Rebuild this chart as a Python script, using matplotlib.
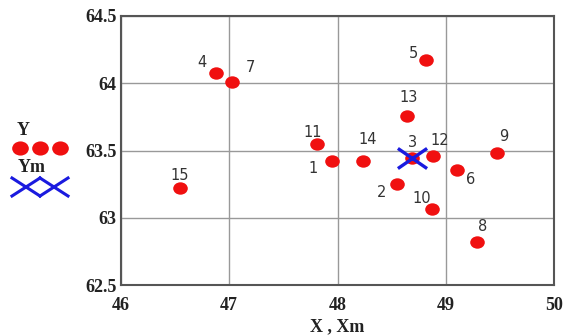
import matplotlib
matplotlib.use("Agg")
import matplotlib.pyplot as plt
from matplotlib.lines import Line2D
from matplotlib.path import Path
from matplotlib.markers import MarkerStyle
from matplotlib.transforms import Affine2D

# Observed points Y (X coordinate, Y coordinate) with their numbers
point_ids = [1, 2, 3, 4, 5, 6, 7, 8, 9, 10, 11, 12, 13, 14, 15]
x_vals = [47.95, 48.55, 48.69, 46.88, 48.82, 49.10, 47.03, 49.29, 49.47, 48.87,
          47.81, 48.88, 48.64, 48.24, 46.545]
y_vals = [63.42, 63.25, 63.445, 64.075, 64.17, 63.355, 64.01, 62.82, 63.48, 63.065,
          63.55, 63.46, 63.76, 63.42, 63.22]

# Reference point Ym
xm = [48.69]
ym = [63.445]

x_ticks = [46, 47, 48, 49, 50]
y_ticks = [62.5, 63, 63.5, 64, 64.5]
x_ticklabels = ["46", "47", "48", "49", "50"]
y_ticklabels = ["62.5", "63", "63.5", "64", "64.5"]

# label offsets in pixels (dx, dy; dy positive upward)
label_offsets = {1: (-19, -7), 2: (-15, -8), 3: (0, 15), 4: (-14, 11), 5: (-13, 7),
                 6: (14, -9), 7: (18, 14), 8: (5, 15), 9: (7, 17), 10: (-10, 11),
                 11: (-4, 11), 12: (7, 15), 13: (2, 18), 14: (4, 22), 15: (0, 13)}

RED = "#f01010"
BLUE = "#1a1adf"
serif_bold = dict(family="Liberation Serif", weight="bold", color="#222222")

# slightly wide dot and wide cross symbols
dot_path = Path.unit_circle().transformed(Affine2D().scale(1.0, 0.85))
DOT = MarkerStyle(dot_path)
cross_path = Path([(-1.45, -1), (1.45, 1), (-1.45, 1), (1.45, -1)],
                  [Path.MOVETO, Path.LINETO, Path.MOVETO, Path.LINETO])
CROSS = MarkerStyle(cross_path)

fig = plt.figure(figsize=(5.70, 3.36), dpi=100)
ax = fig.add_axes([121 / 570, 1 - 285 / 336, 433 / 570, 269 / 336])

ax.set_xlim(46, 50)
ax.set_ylim(62.5, 64.5)
ax.set_xticks(x_ticks)
ax.set_yticks(y_ticks)
ax.set_xticklabels(x_ticklabels, fontsize=13, **serif_bold)
ax.set_yticklabels(y_ticklabels, fontsize=13, **serif_bold)
ax.tick_params(axis="both", length=0)
ax.tick_params(axis="x", pad=9)
ax.tick_params(axis="y", pad=3)
ax.grid(True, color="#999999", linewidth=1.0)
ax.set_axisbelow(True)
for s in ax.spines.values():
    s.set_color("#555555")
    s.set_linewidth(1.5)

ax.plot(x_vals, y_vals, linestyle="none", marker=DOT, markersize=10.5,
        color=RED, markeredgecolor=RED, markeredgewidth=0, zorder=3)
ax.plot(xm, ym, linestyle="none", marker=CROSS, markersize=21, markeredgewidth=2.4,
        color=BLUE, zorder=4)

for pid, x, y in zip(point_ids, x_vals, y_vals):
    dx, dy = label_offsets[pid]
    ax.annotate(str(pid), (x, y), xytext=(dx, dy), textcoords="offset pixels",
                ha="center", va="center", fontsize=10.5, color="#333333",
                family="DejaVu Sans", zorder=5)

ax.set_xlabel("X , Xm", fontsize=13, labelpad=3, **serif_bold)

# legend drawn beside the plot
def fx(px):
    return px / 570

def fy(py):
    return 1 - py / 336

fig.text(fx(23), fy(131), "Y", ha="center", va="center", fontsize=13, **serif_bold)
for px in (20, 40, 60):
    fig.add_artist(Line2D([fx(px)], [fy(148)], marker=DOT, markersize=12,
                          color=RED, markeredgewidth=0, linestyle="none"))
fig.text(fx(32), fy(167), "Ym", ha="center", va="center", fontsize=13, **serif_bold)
for cx in (26, 54):
    for (x0, y0, x1, y1) in ((cx - 14, 178, cx + 14, 196), (cx - 14, 196, cx + 14, 178)):
        fig.add_artist(Line2D([fx(x0), fx(x1)], [fy(y0), fy(y1)], color=BLUE,
                              linewidth=2.2))

fig.savefig("out.png", dpi=100)
